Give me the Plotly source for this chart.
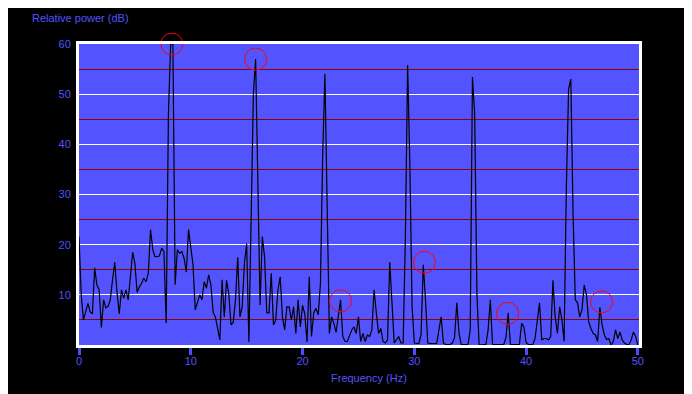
import plotly.graph_objects as go

# Relative power spectrum, sampled every 0.2 Hz from 0 to 50 Hz (rows of 2 Hz)
power_db = [
    21.6, 10, 5, 6.6, 8.3, 6.6, 6.2, 15.4, 12, 11,          # 0.0 - 1.8
    3.5, 9, 7.4, 7.7, 9, 13, 16.5, 10.5, 6.2, 11,           # 2.0 - 3.8
    9.3, 11, 9, 13.6, 18.5, 16.3, 10.5, 11.6, 12.3, 13.3,   # 4.0 - 5.8
    12.6, 14.3, 23, 19, 17.6, 17.6, 17.8, 19.3, 18.6, 4.4,  # 6.0 - 7.8
    46, 60, 60, 12, 19, 18.3, 18.6, 17.3, 14.5, 23,         # 8.0 - 9.8
    19.6, 16, 7, 8.4, 10, 9, 12.6, 11.3, 14, 12,            # 10.0 - 11.8
    6.5, 5.6, 3.6, 1, 13, 5.6, 12.9, 10.2, 4, 4.5,          # 12.0 - 13.8
    9, 17.5, 5.6, 7.6, 16.3, 20.2, 0.6, 22.2, 50, 57,       # 14.0 - 15.8
    30, 8, 21.6, 17.6, 6.4, 6.4, 14.3, 4, 5, 11,            # 16.0 - 17.8
    13.6, 5.6, 3, 7.6, 7.6, 5, 7.6, 2.3, 9, 3.6,            # 18.0 - 19.8
    7.9, 6.2, 0.6, 13.6, 1.7, 6.4, 7.3, 6, 12.3, 37.6,      # 20.0 - 21.8
    54, 30, 2.3, 5.6, 4.3, 2.5, 6.4, 9, 1.7, 0.7,           # 22.0 - 23.8
    0.7, 1.7, 3, 3.6, 2.3, 5.6, 0.7, 2.3, 0.7, 2,           # 24.0 - 25.8
    1.7, 3, 11, 6.4, 2.3, 3.3, 0.7, 0.4, 1, 16.5,           # 26.0 - 27.8
    9, 0.4, 1, 1.7, 0.4, 0.4, 21.6, 55.8, 36, 7.6,          # 28.0 - 29.8
    0.4, 0.3, 0.3, 2, 16, 9, 0.4, 0.3, 0.3, 0.3,            # 30.0 - 31.8
    0.3, 3, 5.6, 0.4, 0.1, 0.1, 0.1, 0.4, 1.5, 8.4,         # 32.0 - 33.8
    2.3, 0.1, 0.1, 0.1, 0.1, 3, 53.4, 46, 10, 0,            # 34.0 - 35.8
    0.1, 0.1, 0.1, 3, 9, 0, 0.1, 0.1, 0.1, 0.1,             # 36.0 - 37.8
    0.1, 1.5, 6.4, 0.1, 0.1, 0.1, 0.1, 0.1, 4.3, 3.6,       # 38.0 - 39.8
    0.5, 0.1, 0.1, 0.1, 1.3, 5.3, 8.4, 1, 1.3, 1.3,         # 40.0 - 41.8
    1, 1.7, 12.9, 5.6, 2.3, 7.6, 5.1, 0.7, 31.5, 51,        # 42.0 - 43.8
    53, 26.2, 9, 8.4, 5.6, 7, 12, 10, 4.6, 3.3,             # 44.0 - 45.8
    2.3, 2, 0.7, 7.5, 4, 2, 1.1, 1.3, 0, 0.7,               # 46.0 - 47.8
    3, 1.3, 2.6, 1, 0.4, 0.1, 0.1, 1, 2.6, 1.7,             # 48.0 - 49.8
    0,                                                       # 50.0
]
freq_step_hz = 0.2
freq_hz = [round(i * freq_step_hz, 2) for i in range(len(power_db))]

# Circled peaks
marked_freq = [8.3, 15.8, 23.4, 30.9, 38.35, 46.75]
marked_power = [60, 57, 8.8, 16.5, 6.3, 8.6]

x_ticks = [0, 10, 20, 30, 40, 50]
y_ticks = [10, 20, 30, 40, 50, 60]

blue_text = "#5252ff"
font_family = "Liberation Sans"

fig = go.Figure()
fig.add_trace(go.Scatter(
    x=freq_hz, y=power_db, mode="lines",
    line=dict(color="black", width=1.2),
    hoverinfo="skip", showlegend=False,
))
fig.add_trace(go.Scatter(
    x=marked_freq, y=marked_power, mode="markers",
    marker=dict(symbol="circle-open", size=22, color="red",
                line=dict(width=1, color="red")),
    cliponaxis=False, showlegend=False,
))

fig.update_layout(
    width=684, height=386,
    margin=dict(l=71, r=53, t=36, b=49),
    paper_bgcolor="black",
    plot_bgcolor="#5454ff",
    font=dict(family=font_family, size=11, color=blue_text),
    showlegend=False,
    xaxis=dict(
        range=[0, 50.1], tickvals=x_ticks, ticktext=[str(v) for v in x_ticks],
        ticks="outside", ticklen=7, tickwidth=3, tickcolor="#4d4dff",
        ticklabelstandoff=-3,
        showline=True, linecolor="white", linewidth=3, mirror=True,
        showgrid=False, zeroline=False,
        tickfont=dict(family=font_family, size=11, color=blue_text),
    ),
    yaxis=dict(
        range=[0, 60], tickvals=y_ticks, ticktext=[str(v) for v in y_ticks],
        ticks="outside", ticklen=3, tickcolor="rgba(0,0,0,0)",
        showline=True, linecolor="white", linewidth=3, mirror=True,
        showgrid=True, gridcolor="white", gridwidth=1, zeroline=False,
        minor=dict(tick0=5, dtick=10, showgrid=True, gridcolor="#8b0000", gridwidth=1, ticks=""),
        tickfont=dict(family=font_family, size=11, color=blue_text),
    ),
    annotations=[
        dict(text="Relative power (dB)", xref="paper", yref="paper",
             x=(30 - 79) / 560, y=(345 - 18) / 301, xanchor="left", yanchor="middle",
             showarrow=False, font=dict(family=font_family, size=11, color=blue_text)),
        dict(text="Frequency (Hz)", xref="paper", yref="paper",
             x=(369 - 79) / 560, y=(345 - 378) / 301, xanchor="center", yanchor="middle",
             showarrow=False, font=dict(family=font_family, size=11, color=blue_text)),
    ],
)

fig.write_html("out.html")
